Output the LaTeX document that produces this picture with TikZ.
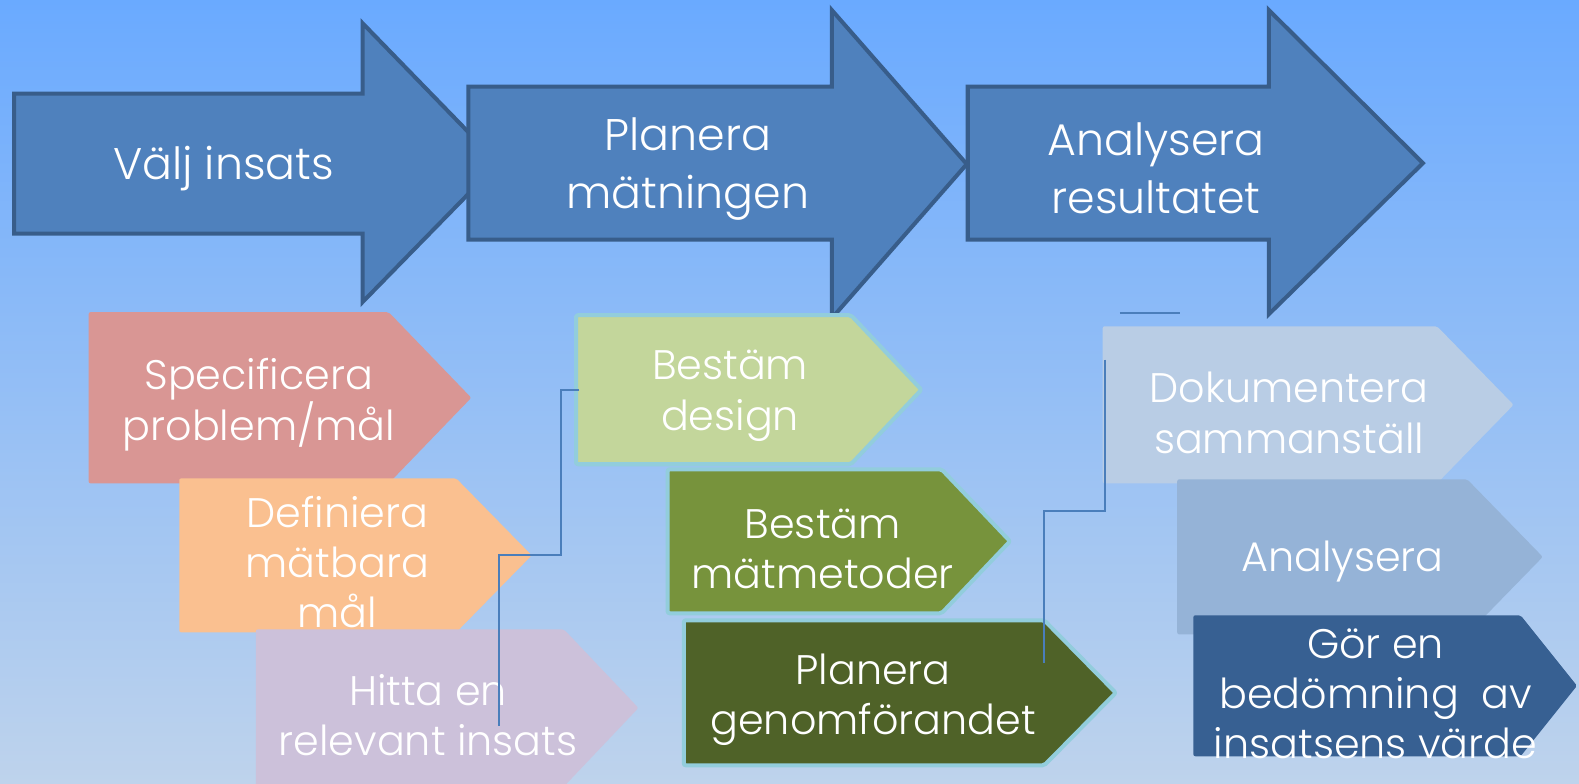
\documentclass[tikz,border=0pt]{standalone}
\usepackage{fontspec}
\setmainfont{Poppins Light}
\definecolor{bgtop}{RGB}{106,170,255}
\definecolor{bgmid}{RGB}{134,190,252}
\definecolor{bgbot}{RGB}{190,211,236}
\definecolor{bigfill}{RGB}{79,129,189}
\definecolor{bigline}{RGB}{56,93,138}
\definecolor{cpink}{RGB}{217,150,148}
\definecolor{corange}{RGB}{250,192,144}
\definecolor{clav}{RGB}{204,193,218}
\definecolor{clgreen}{RGB}{195,214,155}
\definecolor{colive}{RGB}{119,147,60}
\definecolor{cdolive}{RGB}{79,98,40}
\definecolor{cgrey}{RGB}{185,205,229}
\definecolor{cmblue}{RGB}{149,179,215}
\definecolor{cdblue}{RGB}{55,96,146}
\definecolor{cedge}{RGB}{146,205,220}
\definecolor{cconn}{RGB}{74,126,187}
\tikzset{
  bigarrow/.style={fill=bigfill,draw=bigline,line width=4pt,line join=miter},
  bigtext/.style={text=white,align=center,font=\fontsize{44}{57}\selectfont},
  smalltext/.style={text=white,align=center,font=\fontsize{41}{50}\selectfont},
  edged/.style={draw=cedge,line width=4pt,line join=round},
  conn/.style={draw=cconn,line width=2pt}
}
\newcommand{\pentbox}[7]{%
  \path[fill=#6,rounded corners=2pt,#7] (#1,#2) -- (#3,#2) -- (#4,{(#2+#5)/2}) -- (#3,#5) -- (#1,#5) -- cycle;}
\begin{document}
\begin{tikzpicture}[x=1pt,y=-1pt]
\useasboundingbox (0,0) rectangle (1568,778);
\shade[top color=bgtop,middle color=bgmid,bottom color=bgbot] (0,0) rectangle (1568,778);
% big arrows
\path[bigarrow] (14,93) -- (360,93) -- (360,23) -- (495,162) -- (360,300) -- (360,232) -- (14,232) -- cycle;
\path[bigarrow] (465,86) -- (826,86) -- (826,10) -- (960,163) -- (826,316) -- (826,238) -- (465,238) -- cycle;
\path[bigarrow] (961,86) -- (1260,86) -- (1260,10) -- (1413,162) -- (1260,312) -- (1260,238) -- (961,238) -- cycle;
\node[bigtext] (t1) at (222,167) {Välj insats};
\node[bigtext] (t2) at (683,168) {Planera\\mätningen};
\node[bigtext] (t3) at (1148,167) {Analysera\\resultatet};
% small arrows, column 1
\pentbox{88}{310}{386}{468}{480}{cpink}{}
\pentbox{178}{475}{453}{528}{628}{corange}{}
\pentbox{254}{625}{560}{634}{781}{clav}{}
% column 2
\pentbox{572}{313}{845}{915}{461}{clgreen}{edged}
\pentbox{663}{466}{935}{1003}{609}{colive}{edged}
\pentbox{679}{616}{1037}{1108}{760}{cdolive}{edged}
% column 3
\pentbox{1095}{324}{1427}{1503}{480}{cgrey}{}
\pentbox{1169}{476}{1457}{1532}{630}{cmblue}{}
\pentbox{1185}{611}{1510}{1566}{751}{cdblue}{}
% texts
\node[smalltext] (s1) at (257,402) {Specificera\\problem/mål};
\node[smalltext] (s2) at (335,558) {Definiera\\mätbara\\mål};
\node[smalltext] (s3) at (425,710) {Hitta en\\relevant insats};
\node[smalltext] (s4) at (725,393) {Bestäm\\design};
\node[smalltext] (s5) at (817,545) {Bestäm\\mätmetoder};
\node[smalltext] (s6) at (867,695) {Planera\\genomförandet};
\node[smalltext] (s7) at (1280,410) {Dokumentera\\sammanställ};
\node[smalltext] (s8) at (1333,558) {Analysera};
\node[smalltext] (s9) at (1366,689) {Gör en\\bedömning\ \ av\\insatsens värde};
% connectors
\coordinate (ca1) at (575,387);
\coordinate (ca2) at (557,551);
\coordinate (ca3) at (496,721);
\draw[conn] (ca1) -| (ca2) -| (ca3);
\coordinate (cb1) at (1112,311);
\coordinate (cb2) at (1172,311);
\draw[conn] (cb1) -- (cb2);
\coordinate (cc1) at (1097,357);
\coordinate (cc2) at (1037,507);
\coordinate (cc3) at (1037,658);
\draw[conn] (cc1) |- (cc2) -- (cc3);
\end{tikzpicture}
\end{document}
